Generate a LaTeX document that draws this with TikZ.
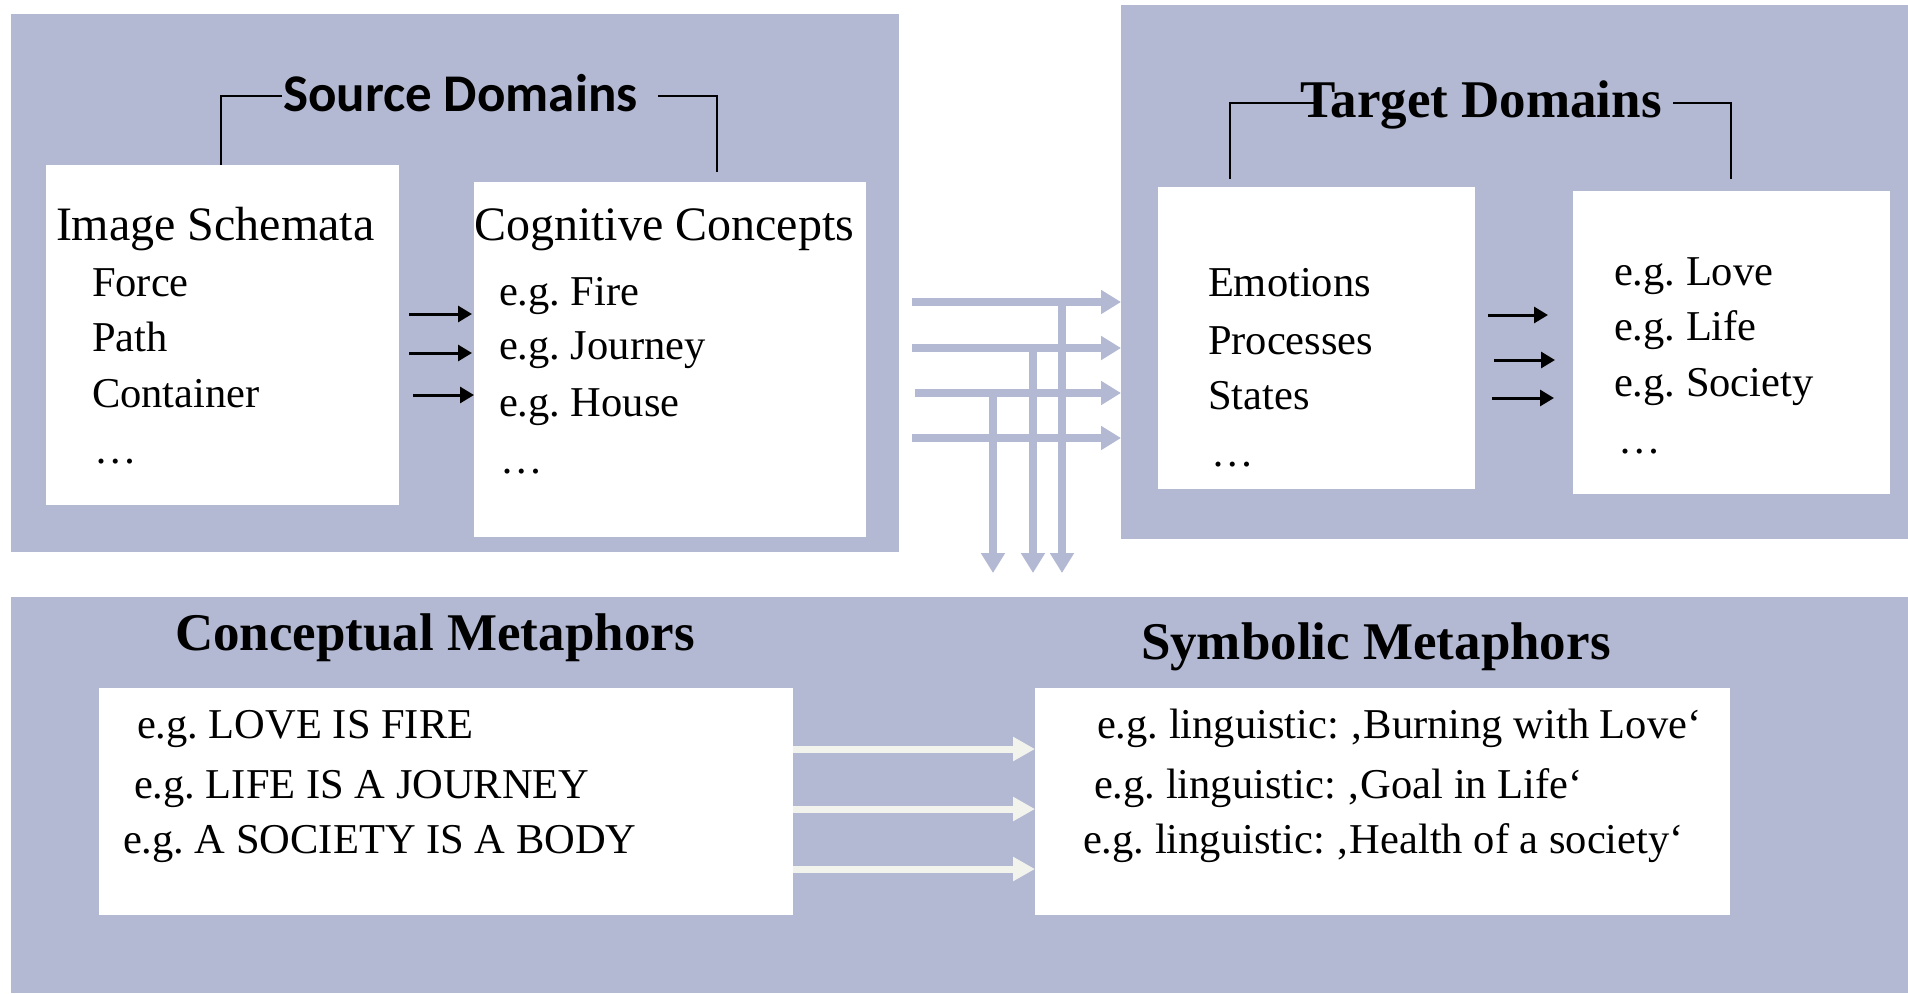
\documentclass[tikz,border=0pt]{standalone}
\usepackage{fontspec}
\setmainfont{Liberation Serif}
\newfontfamily\headsans{Carlito}
\usetikzlibrary{arrows.meta}
\definecolor{panel}{RGB}{179,185,211}
\definecolor{paleline}{RGB}{243,243,238}
\frenchspacing
\begin{document}
\begin{tikzpicture}[x=0.5pt,y=-0.5pt,
  panelbox/.style={rectangle,fill=panel,draw=none,inner sep=0pt,outer sep=0pt},
  whitebox/.style={rectangle,fill=white,draw=none,inner sep=0pt,outer sep=0pt},
  txt/.style={anchor=base west,inner sep=0pt,outer sep=0pt,font=\fontsize{21.25}{25}\selectfont},
  ttl/.style={txt,font=\fontsize{24}{28}\selectfont},
  hd/.style={txt,font=\fontsize{26.5}{30}\selectfont\bfseries},
  sanshd/.style={txt,font=\headsans\bfseries\fontsize{26.5}{30}\selectfont},
  bracket/.style={draw=black,line width=1pt},
  blk/.style={draw=black,line width=1.5pt,-{Triangle[length=7pt,width=8pt]}},
  lav/.style={draw=panel,line width=3.8pt,-{Triangle[length=10pt,width=11.5pt]}},
  pale/.style={draw=paleline,line width=3.5pt,-{Triangle[length=11pt,width=11.5pt]}}]

% canvas
\fill[white] (0,0) rectangle (1908,993);
\path[use as bounding box] (0,0) rectangle (1908,993);

% panels
\node[panelbox,minimum width=444pt,minimum height=269pt] (srcpanel) at (455,283) {};
\node[panelbox,minimum width=393.5pt,minimum height=267pt] (tgtpanel) at (1514.5,272) {};
\node[panelbox,minimum width=948.5pt,minimum height=198pt] (metpanel) at (959.5,795) {};

% white boxes
\node[whitebox,minimum width=176.5pt,minimum height=170pt] (imgbox) at (222.5,335) {};
\node[whitebox,minimum width=196pt,minimum height=177.5pt] (cogbox) at (670,359.5) {};
\node[whitebox,minimum width=158.5pt,minimum height=151pt] (emobox) at (1316.5,338) {};
\node[whitebox,minimum width=158.5pt,minimum height=151.5pt] (exbox) at (1731.5,342.5) {};
\node[whitebox,minimum width=347pt,minimum height=113.5pt] (cmbox) at (446,801.5) {};
\node[whitebox,minimum width=347.5pt,minimum height=113.5pt] (smbox) at (1382.5,801.5) {};

% headings
\node[sanshd] (srchead) at (283,111) {Source Domains};
\node[hd] (tgthead) at (1300,117) {Target Domains};
\node[hd] (cmhead) at (175,650) {Conceptual Metaphors};
\node[hd] (smhead) at (1141,659) {Symbolic Metaphors};

% brackets above the domain boxes
\coordinate (sbl) at (221,96);
\coordinate (sbr) at (717,96);
\draw[bracket] (sbl |- imgbox.north) -- (sbl) -- (282,96);
\draw[bracket] (658,96) -- (sbr) -- (sbr |- 0,172);
\coordinate (tbl) at (1230,103);
\coordinate (tbr) at (1731,103);
\draw[bracket] (tbl |- 0,179) -- (tbl) -- (1318,103);
\draw[bracket] (1673,103) -- (tbr) -- (tbr |- 0,179);

% source domain texts
\node[ttl] (is0) at (56,240) {Image Schemata};
\node[txt] (is1) at (92,296) {Force};
\node[txt] (is2) at (92,351) {Path};
\node[txt] (is3) at (92,407) {Container};
\node[txt] (is4) at (94,463) {…};

\node[ttl] (cc0) at (474,240) {Cognitive Concepts};
\node[txt] (cc1) at (499,305) {e.g. Fire};
\node[txt] (cc2) at (499,359) {e.g. Journey};
\node[txt] (cc3) at (499,416) {e.g. House};
\node[txt] (cc4) at (500,473) {…};

% target domain texts
\node[txt] (em1) at (1208,296) {Emotions};
\node[txt] (em2) at (1208,354) {Processes};
\node[txt] (em3) at (1208,409) {States};
\node[txt] (em4) at (1211,466) {…};

\node[txt] (ex1) at (1614,285) {e.g. Love};
\node[txt] (ex2) at (1614,340) {e.g. Life};
\node[txt] (ex3) at (1614,396) {e.g. Society};
\node[txt] (ex4) at (1618,453) {…};

% metaphor texts
\node[txt] (cm1) at (137,738) {e.g. LOVE IS FIRE};
\node[txt] (cm2) at (134,798) {e.g. LIFE IS A JOURNEY};
\node[txt] (cm3) at (123,853) {e.g. A SOCIETY IS A BODY};

\node[txt] (sm1) at (1097,738) {e.g. linguistic: ‚Burning with Love‘};
\node[txt] (sm2) at (1094,798) {e.g. linguistic: ‚Goal in Life‘};
\node[txt] (sm3) at (1083,853) {e.g. linguistic: ‚Health of a society‘};

% black arrows between boxes
\coordinate (la1) at (409,314); \coordinate (lb1) at (472,314);
\coordinate (la2) at (409,353); \coordinate (lb2) at (472,353);
\coordinate (la3) at (413,395); \coordinate (lb3) at (474,395);
\draw[blk] (la1) -- (lb1);
\draw[blk] (la2) -- (lb2);
\draw[blk] (la3) -- (lb3);
\coordinate (ra1) at (1488,315); \coordinate (rb1) at (1548,315);
\coordinate (ra2) at (1494,360); \coordinate (rb2) at (1555,360);
\coordinate (ra3) at (1492,398); \coordinate (rb3) at (1554,398);
\draw[blk] (ra1) -- (rb1);
\draw[blk] (ra2) -- (rb2);
\draw[blk] (ra3) -- (rb3);

% mapping arrows into the target domains
\coordinate (h1) at (912,302);
\coordinate (h2) at (912,348);
\coordinate (h3) at (915,393);
\coordinate (h4) at (912,438);
\draw[lav] (h1) -- (h1 -| tgtpanel.west);
\draw[lav] (h2) -- (h2 -| tgtpanel.west);
\draw[lav] (h3) -- (h3 -| tgtpanel.west);
\draw[lav] (h4) -- (h4 -| tgtpanel.west);

% branches down to the metaphors
\coordinate (v1) at (1062,302);
\coordinate (v2) at (1033,348);
\coordinate (v3) at (993,393);
\draw[lav] (v1) -- (v1 |- 0,573);
\draw[lav] (v2) -- (v2 |- 0,573);
\draw[lav] (v3) -- (v3 |- 0,573);

% conceptual to symbolic arrows
\coordinate (p1) at (793,749);
\coordinate (p2) at (793,809);
\coordinate (p3) at (793,869);
\draw[pale] (p1) -- (p1 -| smbox.west);
\draw[pale] (p2) -- (p2 -| smbox.west);
\draw[pale] (p3) -- (p3 -| smbox.west);
\end{tikzpicture}
\end{document}
